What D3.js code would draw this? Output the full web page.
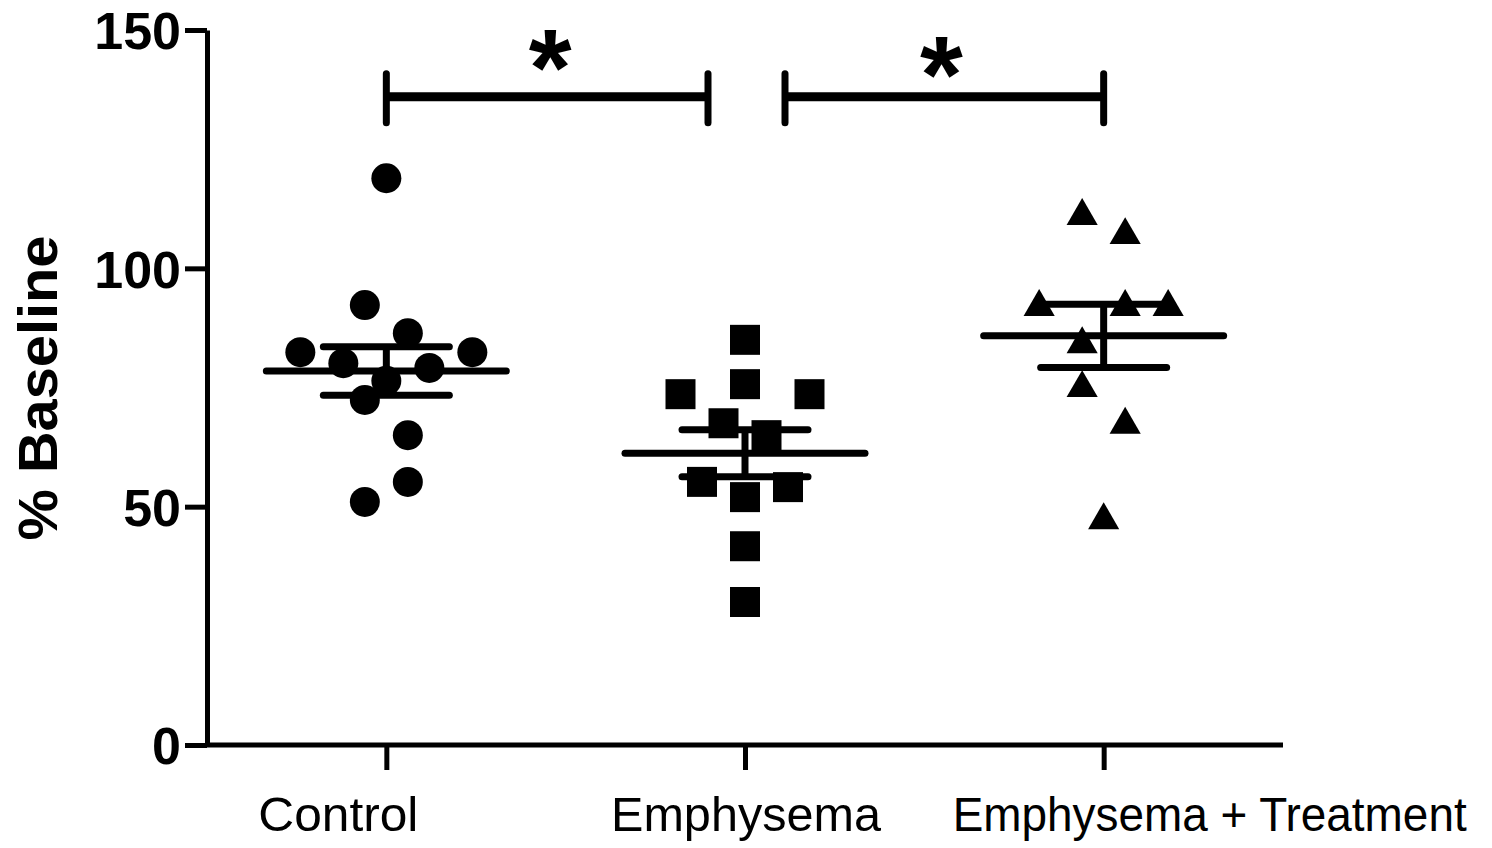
<!DOCTYPE html>
<html>
<head>
<meta charset="utf-8">
<script src="https://cdn.jsdelivr.net/npm/d3@7"></script>
<style>
  html, body { margin: 0; padding: 0; background: #fff; }
  svg { display: block; }
</style>
</head>
<body>
<svg id="chart" width="1492" height="848"></svg>
<script>
// ---- data ----
const categories = ["Control", "Emphysema", "Emphysema + Treatment"];
const yTicks = [0, 50, 100, 150];
// values (% baseline) and their horizontal lane (scatter jitter slot)
const controlValues   = [118.9, 92.3, 86.4, 82.4, 82.4, 80.1, 79.1, 76.4, 72.4, 65.0, 55.2, 51.0];
const controlLanes    = [0, -1, 1, -4, 4, -2, 2, 0, -1, 1, 1, -1];
const emphysemaValues = [85.0, 75.7, 73.6, 73.6, 67.5, 65.0, 55.2, 54.1, 52.0, 41.7, 30.0];
const emphysemaLanes  = [0, 0, -3, 3, -1, 1, -2, 2, 0, 0, 0];
const treatmentValues = [111.6, 107.6, 92.5, 92.5, 92.5, 84.7, 75.5, 67.8, 47.8];
const treatmentLanes  = [-1, 1, -3, 1, 3, -1, -1, 1, 0];
const significance = [
  { from: "Control", to: "Emphysema", label: "*" },
  { from: "Emphysema", to: "Emphysema + Treatment", label: "*" }
];
const bracketValue = 136;

const groups = [
  { name: categories[0], values: controlValues, lanes: controlLanes, shape: "circle" },
  { name: categories[1], values: emphysemaValues, lanes: emphysemaLanes, shape: "square" },
  { name: categories[2], values: treatmentValues, lanes: treatmentLanes, shape: "triangle" }
];

// ---- layout ----
const svg = d3.select("#chart");
const pLeft = 207, pRight = 1283, pTop = 30, pBottom = 745;
const x = d3.scalePoint().domain(categories).range([pLeft, pRight]).padding(0.5);
const y = d3.scaleLinear().domain([0, 150]).range([pBottom, pTop]);
const laneW = 21.5;

// axes
const yAxis = svg.append("g").attr("transform", `translate(${pLeft},0)`)
  .call(d3.axisLeft(y).tickValues(yTicks).tickSize(22).tickPadding(4).tickSizeOuter(0));
yAxis.select(".domain").attr("stroke", "#000").attr("stroke-width", 5);
yAxis.selectAll(".tick line").attr("stroke", "#000").attr("stroke-width", 5);
yAxis.selectAll(".tick text")
  .attr("font-family", "Liberation Sans, Arial, sans-serif")
  .attr("font-weight", "bold").attr("font-size", 52).attr("fill", "#000")
  .attr("dy", "0.36em");

const xAxis = svg.append("g").attr("transform", `translate(0,${pBottom})`)
  .call(d3.axisBottom(x).tickSize(25).tickSizeOuter(0).tickFormat(""));
xAxis.select(".domain").attr("stroke", "#000").attr("stroke-width", 5)
  .attr("d", `M${pLeft - 2},0H${pRight}`);
xAxis.selectAll(".tick line").attr("stroke", "#000").attr("stroke-width", 5);

// x labels
const labelShift = [-48, 1, 106];
const labelLen = [160, 270, 514];
svg.append("g").selectAll("text").data(categories).join("text")
  .attr("x", (d, i) => x(d) + labelShift[i])
  .attr("y", 831)
  .attr("text-anchor", "middle")
  .attr("font-family", "Liberation Sans Narrow, Arial Narrow, Liberation Sans, Arial, sans-serif")
  .attr("font-size", 48)
  .attr("textLength", (d, i) => labelLen[i])
  .attr("lengthAdjust", "spacingAndGlyphs")
  .attr("fill", "#000")
  .text(d => d);

// y title
svg.append("text")
  .attr("transform", `translate(57,388) rotate(-90)`)
  .attr("text-anchor", "middle")
  .attr("font-family", "Liberation Sans, Arial, sans-serif")
  .attr("font-weight", "bold").attr("font-size", 55)
  .attr("textLength", 305).attr("lengthAdjust", "spacingAndGlyphs")
  .attr("fill", "#000")
  .text("% Baseline");

// points
const sym = {
  circle: d3.symbol().type(d3.symbolCircle).size(Math.PI * 15 * 15),
  square: d3.symbol().type(d3.symbolSquare).size(30 * 30),
  triangle: d3.symbol().type(d3.symbolTriangle).size(420)
};
groups.forEach(g => {
  const pts = g.values.map((v, i) => ({ v, lane: g.lanes[i] }));
  svg.append("g").selectAll("path").data(pts).join("path")
    .attr("transform", d => {
      const dy = g.shape === "triangle" ? 3 : 0;
      return `translate(${x(g.name) + d.lane * laneW},${y(d.v) + dy})`;
    })
    .attr("d", sym[g.shape]())
    .attr("fill", "#000");
});

// mean and SEM
groups.forEach(g => {
  const m = d3.mean(g.values);
  const sem = d3.deviation(g.values) / Math.sqrt(g.values.length);
  const cx = x(g.name);
  const gg = svg.append("g").attr("stroke", "#000").attr("stroke-linecap", "round");
  gg.append("line").attr("x1", cx - 120).attr("x2", cx + 120)
    .attr("y1", y(m)).attr("y2", y(m)).attr("stroke-width", 7);
  gg.append("line").attr("x1", cx).attr("x2", cx)
    .attr("y1", y(m + sem)).attr("y2", y(m - sem)).attr("stroke-width", 7).attr("stroke-linecap", "butt");
  [m + sem, m - sem].forEach(v => {
    gg.append("line").attr("x1", cx - 63).attr("x2", cx + 63)
      .attr("y1", y(v)).attr("y2", y(v)).attr("stroke-width", 7);
  });
});

// significance brackets
const bracketInset = [[0, -37], [40, 0]];
const starDy = [0, 7];
significance.forEach((s, i) => {
  const x1 = x(s.from) + bracketInset[i][0];
  const x2 = x(s.to) + bracketInset[i][1];
  const by = y(bracketValue);
  const gg = svg.append("g").attr("stroke", "#000");
  gg.append("line").attr("x1", x1).attr("x2", x2).attr("y1", by).attr("y2", by).attr("stroke-width", 9);
  [x1, x2].forEach(xx => {
    gg.append("line").attr("x1", xx).attr("x2", xx).attr("y1", by - 23).attr("y2", by + 26)
      .attr("stroke-width", 7).attr("stroke-linecap", "round");
  });
  svg.append("text")
    .attr("x", (x1 + x2) / 2 - 0.5 * (i === 0 ? -6 : 6))
    .attr("y", 105 + starDy[i])
    .attr("text-anchor", "middle")
    .attr("font-family", "Liberation Sans, Arial, sans-serif")
    .attr("font-weight", "bold").attr("font-size", 110)
    .attr("fill", "#000")
    .text(s.label);
});
</script>
</body>
</html>
